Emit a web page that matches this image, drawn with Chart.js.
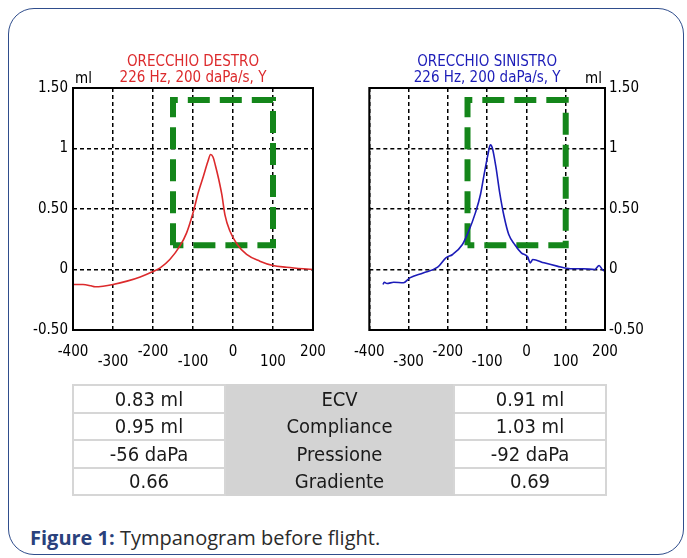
<!DOCTYPE html>
<html>
<head>
<meta charset="utf-8">
<script src="https://cdn.jsdelivr.net/npm/chart.js@4.4.1/dist/chart.umd.min.js"></script>
<style>
  body { margin: 0; width: 687px; height: 558px; overflow: hidden; position: relative; background: #fff;
         font-family: "DejaVu Sans Condensed", "DejaVu Sans", sans-serif; }
  .card { position: absolute; left: 8px; top: 8px; width: 676px; height: 547px;
          border: 1.5px solid #2f4d8c; border-radius: 26px; box-sizing: border-box; }
  .chartbox { position: absolute; }
  #boxDestro { left: 20px; top: 40px; width: 330px; height: 345px; }
  #boxSinistro { left: 340px; top: 40px; width: 320px; height: 345px; }
  table { position: absolute; left: 72px; top: 384px; border-collapse: collapse; color: #1a1a1a; }
  td { height: 25.5px; padding: 0; border: 2px solid #d6d6d6; text-align: center; font-size: 20px; line-height: 24px; }
  td.side { width: 150px; background: #fff; }
  td.mid { width: 227px; background: #d3d3d3; border-top-color: #d3d3d3; border-bottom-color: #d3d3d3; }
  .caption { position: absolute; left: 30px; top: 524px; font-family: "Open Sans", sans-serif; font-size: 20px; color: #2b2b2b; }
  .caption b { color: #2a417c; }
</style>
</head>
<body>
<div class="card"></div>
<div class="chartbox" id="boxDestro"><canvas id="chartDestro"></canvas></div>
<div class="chartbox" id="boxSinistro"><canvas id="chartSinistro"></canvas></div>
<table id="results"></table>
<div class="caption"><b>Figure 1:</b> Tympanogram before flight.</div>
<script>
// axes
const pressureTicks = [-400, -300, -200, -100, 0, 100, 200];
const complianceTicks = [-0.5, 0, 0.5, 1, 1.5];
const complianceTickLabels = ['-0.50', '0', '0.50', '1', '1.50'];

// normal region box (daPa / ml)
const boxPressure = [-150, -150, 100, 100, -150];
const boxCompliance = [0.2, 1.4, 1.4, 0.2, 0.2];

// ORECCHIO DESTRO
const destroPressure = [-400, -375, -355, -345, -325, -300, -265, -232, -200, -182, -158, -133, -116, -99, -87, -74,
  -63, -56, -50, -44, -36, -28, -20, -8, 9, 34, 67, 100, 134, 176, 200];
const destroCompliance = [-0.124, -0.124, -0.135, -0.143, -0.138, -0.124, -0.096, -0.061, -0.016, 0.014, 0.083, 0.193,
  0.303, 0.48, 0.634, 0.771, 0.89, 0.95, 0.93, 0.86, 0.75, 0.62, 0.45, 0.32, 0.215, 0.124, 0.069, 0.033, 0.019, 0.006, 0.0];

// ORECCHIO SINISTRO
const sinistroPressure = [-365, -362, -355, -338, -313, -297, -263, -226, -205, -188, -163, -147, -130, -117, -107, -98,
  -92, -87, -78, -68, -57, -45, -30, -13, 3, 10, 16, 45, 78, 112, 145, 174, 185, 193, 200];
const sinistroCompliance = [-0.124, -0.105, -0.116, -0.105, -0.11, -0.069, -0.028, 0.019, 0.096, 0.124, 0.207, 0.317,
  0.468, 0.62, 0.799, 0.95, 1.03, 1.006, 0.854, 0.634, 0.44, 0.289, 0.207, 0.138, 0.105, 0.055, 0.083, 0.055, 0.028,
  0.006, 0.006, 0.0, 0.033, 0.0, -0.015];

// table
const measureNames = ['ECV', 'Compliance', 'Pressione', 'Gradiente'];
const destroValues = ['0.83 ml', '0.95 ml', '-56 daPa', '0.66'];
const sinistroValues = ['0.91 ml', '1.03 ml', '-92 daPa', '0.69'];

const FONT = '"DejaVu Sans Condensed", "DejaVu Sans", sans-serif';

const table = document.getElementById('results');
measureNames.forEach((name, i) => {
  const tr = document.createElement('tr');
  tr.innerHTML = '<td class="side">' + destroValues[i] + '</td><td class="mid">' + name +
    '</td><td class="side">' + sinistroValues[i] + '</td>';
  table.appendChild(tr);
});

function toPoints(xs, ys) {
  return xs.map((x, i) => ({ x: x, y: ys[i] }));
}

const framePlugin = {
  id: 'frame',
  afterDatasetsDraw(chart) {
    const a = chart.chartArea, ctx = chart.ctx;
    ctx.save();
    ctx.strokeStyle = '#000';
    ctx.lineWidth = 2;
    ctx.strokeRect(a.left, a.top, a.right - a.left, a.bottom - a.top);
    ctx.restore();
  }
};

const unitPlugin = {
  id: 'unit',
  afterDraw(chart, args, opts) {
    const a = chart.chartArea, ctx = chart.ctx;
    ctx.save();
    ctx.font = '15px ' + FONT;
    ctx.fillStyle = '#000';
    ctx.textBaseline = 'middle';
    if (opts.side === 'left') {
      ctx.textAlign = 'left';
      ctx.fillText('ml', a.left + 2, a.top - 9);
    } else {
      ctx.textAlign = 'right';
      ctx.fillText('ml', a.right - 3, a.top - 9);
    }
    ctx.restore();
  }
};

function makeChart(id, title, color, xs, ys, side, padding) {
  return new Chart(document.getElementById(id), {
    type: 'scatter',
    data: {
      datasets: [
        {
          data: toPoints(xs, ys),
          showLine: true,
          borderColor: color,
          borderWidth: 1.6,
          pointRadius: 0,
          cubicInterpolationMode: 'monotone'
        },
        {
          data: toPoints(boxPressure, boxCompliance),
          showLine: true,
          borderColor: '#14861a',
          borderWidth: 6,
          borderDash: [22, 10],
          borderCapStyle: 'butt',
          pointRadius: 0,
          tension: 0
        }
      ]
    },
    options: {
      responsive: true,
      maintainAspectRatio: false,
      animation: false,
      layout: { padding: padding },
      plugins: {
        legend: { display: false },
        tooltip: { enabled: false },
        title: {
          display: true,
          text: title,
          color: color,
          fullSize: false,
          font: { family: FONT, size: 15, weight: 'normal', lineHeight: '16.5px' },
          padding: { top: 13.75, bottom: 1.25 }
        },
        unit: { side: side }
      },
      scales: {
        x: {
          type: 'linear',
          min: -400,
          max: 200,
          afterBuildTicks: s => { s.ticks = pressureTicks.map(v => ({ value: v })); },
          afterFit: s => { s.height = 36; },
          grid: { color: '#000', lineWidth: 1.5, drawTicks: false },
          border: { display: false, dash: [4, 3] },
          ticks: {
            autoSkip: false,
            maxRotation: 0,
            padding: 14,
            color: '#000',
            font: c => ({ family: FONT, size: 15, lineHeight: c.index % 2 ? '12px' : '16px' }),
            callback: (v, i) => (i % 2 ? ['', String(v)] : String(v))
          }
        },
        y: {
          type: 'linear',
          position: side,
          min: -0.5,
          max: 1.5,
          afterBuildTicks: s => { s.ticks = complianceTicks.map(v => ({ value: v })); },
          afterFit: s => { s.width = 45; },
          grid: { color: '#000', lineWidth: 1.5, drawTicks: false },
          border: { display: false, dash: [4, 3] },
          ticks: {
            padding: side === 'left' ? 5 : 4,
            color: '#000',
            font: { family: FONT, size: 15 },
            callback: (v, i) => complianceTickLabels[i]
          }
        }
      }
    },
    plugins: [framePlugin, unitPlugin]
  });
}

makeChart('chartDestro', ['ORECCHIO DESTRO', '226 Hz, 200 daPa/s, Y'], '#dc2a2c',
  destroPressure, destroCompliance, 'left', { left: 8, right: 37, top: 0, bottom: 19 });
makeChart('chartSinistro', ['ORECCHIO SINISTRO', '226 Hz, 200 daPa/s, Y'], '#1c1cb8',
  sinistroPressure, sinistroCompliance, 'right', { left: 24, right: 10, top: 0, bottom: 19 });
</script>
</body>
</html>
